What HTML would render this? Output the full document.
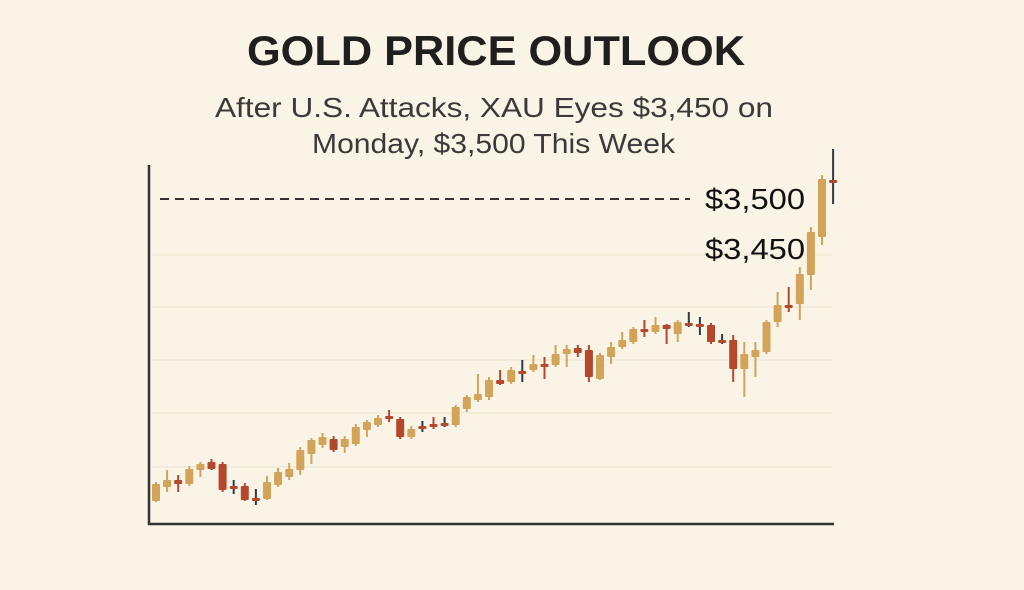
<!DOCTYPE html>
<html><head><meta charset="utf-8">
<style>
html,body{margin:0;padding:0;background:#FAF4E6;}
body{width:1024px;height:585px;overflow:hidden;font-family:"Liberation Sans",sans-serif;}
</style></head>
<body>
<svg id="chart" width="1024" height="585" viewBox="0 0 1024 585" xmlns="http://www.w3.org/2000/svg">
<rect width="1024" height="585" fill="#FAF4E6"/>
<text x="247" y="65" textLength="498" lengthAdjust="spacingAndGlyphs" font-family="Liberation Sans, sans-serif" font-weight="bold" font-size="42" fill="#1f1f1f">GOLD PRICE OUTLOOK</text>
<text x="215" y="117" textLength="558" lengthAdjust="spacingAndGlyphs" font-family="Liberation Sans, sans-serif" font-size="28" fill="#3a3a3a">After U.S. Attacks, XAU Eyes $3,450 on</text>
<text x="312" y="153" textLength="363" lengthAdjust="spacingAndGlyphs" font-family="Liberation Sans, sans-serif" font-size="28" fill="#3a3a3a">Monday, $3,500 This Week</text>
<g id="grid"></g>
<g id="candles"></g>
<g id="axes"></g>
</svg>
<script>
const opens  = [3198,3212,3219,3215,3229,3237,3235,3213,3213,3201,3200,3214,3222,3229,3245,3254,3260,3252,3255,3269,3274,3283,3280,3262,3273,3275,3276,3274,3290,3299,3302,3319,3317,3328,3329,3335,3334,3345,3351,3349,3320,3342,3352,3357,3370,3367,3374,3365,3376,3375,3374,3359,3359,3330,3342,3347,3377,3394,3395,3424,3462,3519];
const closes = [3215,3219,3215,3230,3235,3230,3209,3211,3199,3200,3217,3227,3230,3249,3259,3262,3249,3260,3272,3277,3281,3280,3262,3270,3271,3272,3274,3292,3302,3305,3319,3315,3329,3326,3335,3332,3345,3350,3346,3322,3344,3352,3359,3370,3367,3374,3370,3377,3374,3373,3357,3357,3330,3345,3349,3377,3394,3391,3425,3467,3520,3517];
const highs  = [3217,3229,3224,3233,3237,3240,3237,3219,3216,3210,3223,3231,3236,3252,3261,3266,3263,3263,3275,3279,3284,3289,3282,3273,3278,3282,3282,3294,3304,3325,3322,3329,3332,3339,3344,3342,3354,3354,3354,3354,3346,3357,3367,3372,3379,3382,3375,3379,3387,3382,3376,3365,3364,3357,3357,3379,3407,3412,3432,3472,3524,3550];
const lows   = [3197,3207,3207,3213,3222,3229,3207,3205,3198,3194,3199,3212,3219,3224,3235,3251,3247,3246,3253,3262,3272,3277,3260,3260,3267,3270,3272,3272,3287,3297,3299,3314,3315,3317,3327,3320,3332,3332,3342,3317,3319,3335,3350,3355,3362,3365,3355,3357,3372,3364,3355,3355,3317,3302,3322,3345,3372,3387,3379,3409,3454,3495];
const levelValues = [3500, 3450];
const levelLabels = ["$3,500", "$3,450"];
const gridValues = [3444, 3392, 3339, 3286, 3232];

const NS = "http://www.w3.org/2000/svg";
function yScale(v){ return 3699 - v; }
function xScale(i){ return 156 + i * 11.1; }
function mk(tag, attrs, parent){ const e=document.createElementNS(NS,tag); for(const k in attrs) e.setAttribute(k, attrs[k]); parent.appendChild(e); return e; }

const grid = document.getElementById('grid');
gridValues.forEach(v=>{
  const l = mk('line',{x1:152,x2:833,y1:yScale(v),y2:yScale(v),stroke:'#efe6d2','stroke-width':1.2},grid);
  
  
});

const dl = mk('line',{x1:160,x2:690,y1:yScale(levelValues[0]),y2:yScale(levelValues[0]),stroke:'#333','stroke-width':2,'stroke-dasharray':'9,6'},grid);



levelValues.forEach((v,k)=>{
  const t = mk('text',{x:705,y:yScale(v)+10,textLength:100,lengthAdjust:'spacingAndGlyphs','font-family':'Liberation Sans, sans-serif','font-size':29,fill:'#111'},grid);
  t.textContent = levelLabels[k];
  
  
});

const cg = document.getElementById('candles');
opens.forEach((o,i)=>{
  const c = closes[i], x = xScale(i);
  const up = c >= o;
  const doji = Math.abs(c-o) < 3;
  const col = up ? '#D2A45A' : '#B5472C';
  const g = mk('g',{},cg);
  
  
  mk('line',{x1:x,x2:x,y1:yScale(highs[i]),y2:yScale(lows[i]),stroke: doji ? '#2e3a44' : col,'stroke-width':2},g);
  const top = yScale(Math.max(o,c)), bot = yScale(Math.min(o,c));
  const h = Math.max(bot-top, 3);
  mk('rect',{x:x-4,y:top,width:8,height:h,fill:col,rx:1},g);
});

const ax = document.getElementById('axes');
const ya = mk('line',{x1:149,x2:149,y1:165,y2:525,stroke:'#333','stroke-width':2.5},ax);


const xa = mk('line',{x1:148,x2:834,y1:524,y2:524,stroke:'#333','stroke-width':2.5},ax);


</script>
</body></html>
